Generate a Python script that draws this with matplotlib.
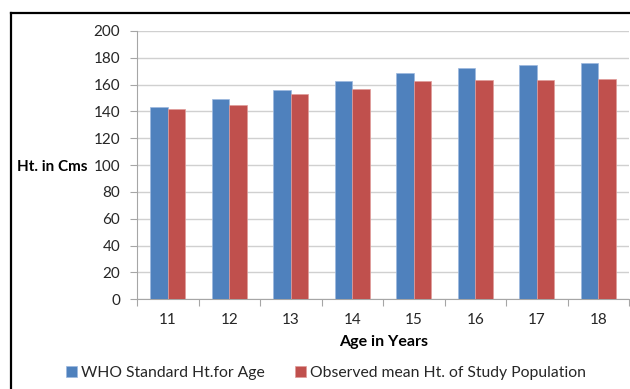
import numpy as np
import matplotlib
matplotlib.use("Agg")
import matplotlib.pyplot as plt
from matplotlib.lines import Line2D

ages = ["11", "12", "13", "14", "15", "16", "17", "18"]
who_standard = [143, 149, 156, 163, 169, 172.5, 175, 176]
observed_mean = [142, 145, 153, 156.5, 163, 163.5, 163.5, 164.5]
y_ticks = [0, 20, 40, 60, 80, 100, 120, 140, 160, 180, 200]

BLUE = "#4F81BD"
RED = "#C0504D"
GRID = "#D0D0D0"
AXIS = "#A6A6A6"
TEXT = "#262626"

plt.rcParams["font.family"] = ["Lato", "DejaVu Sans"]

W, H = 630, 389
fig = plt.figure(figsize=(W / 100, H / 100), dpi=100)
ax = fig.add_axes([137 / W, (H - 299.3) / H, (629 - 137) / W, (299.3 - 31) / H])

x = np.arange(len(ages))
bw = 0.286
ax.bar(x - bw / 2, who_standard, bw, color=BLUE, edgecolor="#9DB9DF",
       linewidth=0.5, zorder=3, label="WHO Standard Ht.for Age")
ax.bar(x + bw / 2, observed_mean, bw, color=RED, edgecolor="#E09C9A",
       linewidth=0.5, zorder=3, label="Observed mean Ht. of Study Population")

ax.set_xlim(-0.5, len(ages) - 0.5)
ax.set_ylim(0, 200)
ax.set_yticks(y_ticks)
ax.set_yticklabels([str(t) for t in y_ticks], fontsize=11, color=TEXT)
ax.set_xticks(x)
ax.set_xticklabels(ages, fontsize=11, color=TEXT)
ax.tick_params(axis="x", length=0, pad=10)
ax.set_xticks(np.arange(-0.5, len(ages) + 0.5, 1), minor=True)
ax.tick_params(axis="x", which="minor", length=5, color=AXIS, width=0.8)
ax.tick_params(axis="y", length=5, color=AXIS, width=0.8, pad=7)

ax.yaxis.grid(True, color=GRID, linewidth=1.0, zorder=0)
ax.set_axisbelow(True)
for side in ("top", "right"):
    ax.spines[side].set_visible(False)
for side in ("left", "bottom"):
    ax.spines[side].set_color(AXIS)
    ax.spines[side].set_linewidth(0.8)

# Vertical-axis title sits on the level of the 100 tick, like the tick labels
fig.text(17 / W, 0.5, "Ht. in Cms", fontsize=11, fontweight="bold",
         color="black", ha="left", va="center_baseline",
         transform=matplotlib.transforms.blended_transform_factory(
             fig.transFigure, ax.transData)).set_y(100)
fig.text(384 / W, 1 - 342 / H, "Age in Years", fontsize=11.5, fontweight="bold",
         color="black", ha="center", va="center")

leg = fig.legend(loc="center", bbox_to_anchor=(326 / W, 1 - 373 / H), ncol=2,
                 frameon=False, fontsize=11.3, handlelength=0.7, handleheight=0.7,
                 handletextpad=0.25, columnspacing=1.9)
for t in leg.get_texts():
    t.set_color(TEXT)

# Outer frame of the chart area
fig.add_artist(Line2D([11 / W, 11 / W], [0, 1 - 12.5 / H], color="black",
                      linewidth=1.6, transform=fig.transFigure))
fig.add_artist(Line2D([11 / W, 1], [1 - 12.5 / H, 1 - 12.5 / H], color="black",
                      linewidth=1.6, transform=fig.transFigure))

fig.savefig("out.png", dpi=100)
